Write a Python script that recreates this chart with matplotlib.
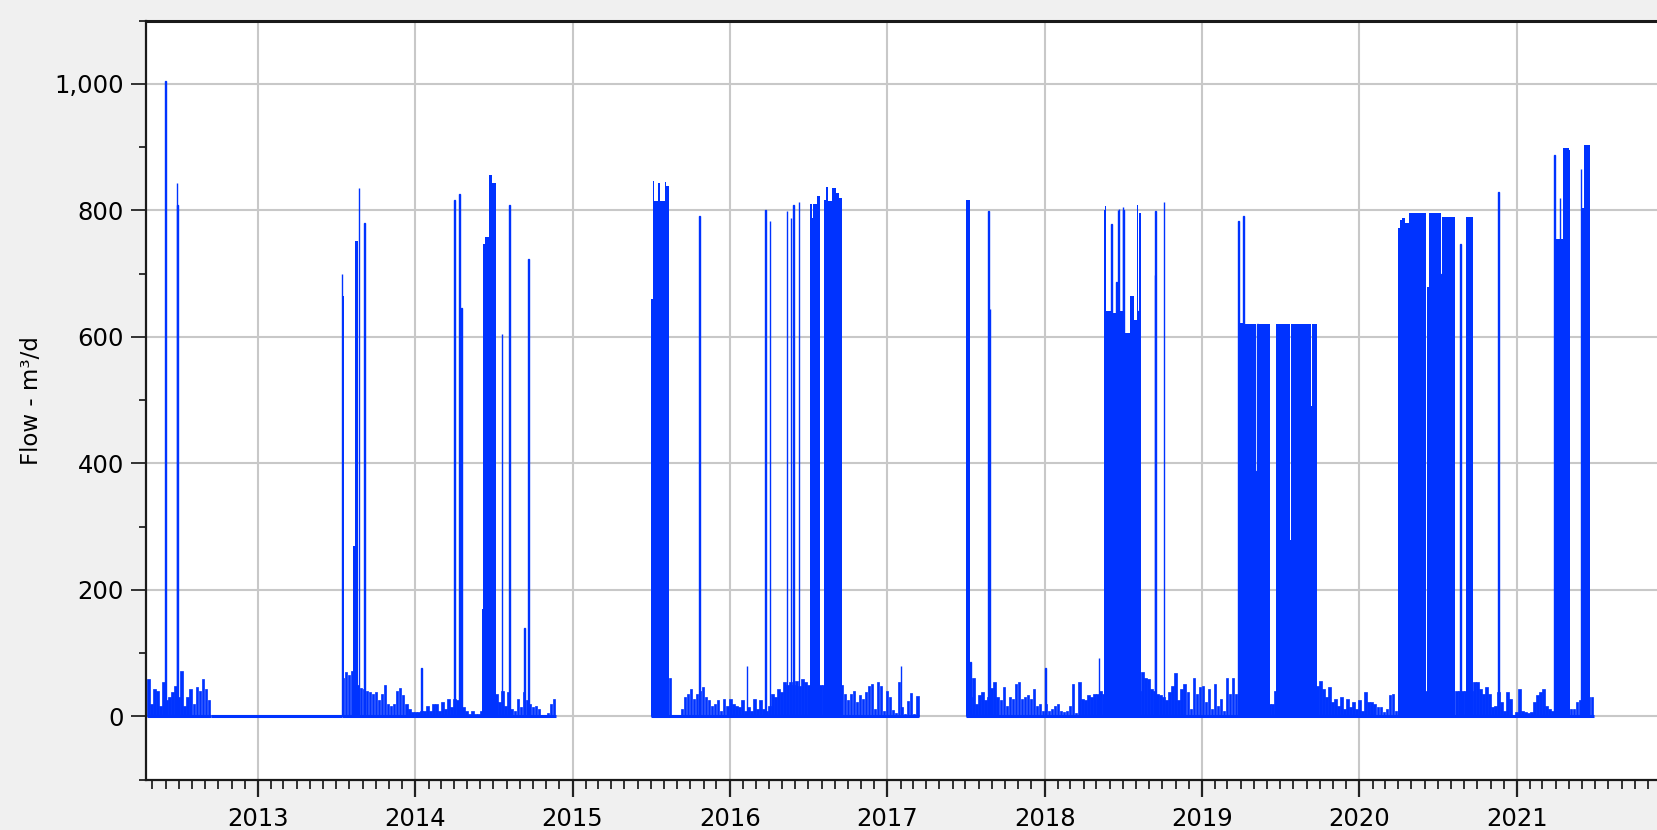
import matplotlib
matplotlib.use("Agg")
import matplotlib.pyplot as plt
import matplotlib.dates as mdates
import matplotlib.ticker as mticker
import pandas as pd

BLUE = "#0033ff"

# ---- weekly background (low) flow, m3/d, one list per recording period ----
low_starts = ["2012-04-19", "2013-07-14", "2015-07-01", "2017-07-03"]
low_2012 = [59, 20, 43, 40, 17, 54, 25, 30, 38, 48, 30, 72, 17, 30, 43, 19, 46, 40, 59, 43, 25]
low_2013 = [60, 70, 65, 72, 55, 50, 45, 43, 40, 38, 36, 38, 25, 35, 50, 20, 17, 19, 40, 45,
            33, 20, 12, 7, 6, 6, 8, 8, 17, 9, 19, 20, 9, 22, 12, 27, 14, 27, 25, 20,
            14, 9, 4, 9, 3, 4, 8, 30, 35, 30, 30, 35, 22, 40, 17, 38, 12, 9, 27, 15,
            38, 25, 19, 14, 17, 12, 2, 1, 5, 19, 27]
low_2015 = [20, 25, 30, 25, 27, 30, 60, 1, 0, 0, 12, 30, 35, 43, 27, 35, 40, 46, 30, 25,
            17, 19, 25, 9, 27, 17, 27, 19, 17, 14, 25, 9, 15, 9, 27, 12, 25, 12, 9, 17,
            35, 30, 43, 38, 54, 50, 54, 50, 56, 48, 59, 54, 50, 50, 50, 75, 50, 50, 50, 50,
            50, 50, 50, 50, 35, 25, 35, 40, 22, 33, 27, 38, 48, 51, 12, 54, 48, 9, 40, 30,
            10, 5, 54, 15, 3, 24, 37, 3, 32]
low_2017 = [35, 30, 60, 19, 33, 38, 25, 30, 45, 54, 30, 25, 46, 17, 30, 27, 51, 54, 27, 30,
            33, 27, 43, 17, 19, 9, 20, 9, 12, 17, 19, 9, 6, 9, 17, 51, 5, 54, 27, 25,
            33, 30, 35, 35, 40, 35, 40, 40, 40, 40, 40, 40, 40, 40, 40, 40, 40, 40, 70, 60,
            59, 43, 40, 35, 33, 30, 25, 38, 48, 69, 25, 43, 51, 38, 12, 60, 35, 46, 48, 22,
            43, 12, 51, 17, 27, 9, 60, 35, 60, 35, 25, 14, 40, 40, 40, 40, 40, 40, 40, 40,
            19, 19, 40, 40, 40, 40, 40, 40, 40, 40, 40, 40, 40, 40, 40, 40, 48, 56, 43, 30,
            46, 22, 27, 17, 30, 12, 27, 14, 22, 12, 25, 9, 38, 22, 22, 19, 14, 14, 6, 12,
            33, 35, 9, 40, 40, 40, 40, 40, 40, 40, 40, 40, 40, 40, 40, 40, 40, 40, 40, 40,
            40, 40, 40, 40, 40, 40, 40, 40, 54, 54, 43, 35, 46, 35, 14, 17, 38, 22, 9, 38,
            27, 1, 6, 43, 9, 6, 5, 6, 22, 33, 38, 43, 17, 12, 9, 6, 33, 12, 5, 5,
            12, 12, 22, 25, 30, 30, 30, 30]

# period with a recorded flow of zero
zero_start = "2012-09-13"
zero_end = "2013-07-14"

# ---- pumping / high-flow runs: start date, duration (days), flow (m3/d) ----
hi_start = [
    "2012-05-31", "2012-06-26", "2012-06-28",
    "2013-07-14", "2013-07-16", "2013-08-10", "2013-08-14", "2013-08-23", "2013-09-05",
    "2014-01-15", "2014-04-02", "2014-04-13", "2014-04-18",
    "2014-06-04", "2014-06-07", "2014-06-12", "2014-06-20", "2014-06-29",
    "2014-07-21", "2014-08-07", "2014-09-11", "2014-09-20",
    "2015-07-01", "2015-07-06", "2015-07-09", "2015-07-19", "2015-07-22", "2015-08-03",
    "2015-08-07", "2015-10-22",
    "2016-02-09", "2016-03-23", "2016-04-03", "2016-05-12", "2016-05-21", "2016-05-27",
    "2016-06-09", "2016-07-06", "2016-07-09", "2016-07-12", "2016-07-22",
    "2016-08-06", "2016-08-12", "2016-08-17", "2016-08-26", "2016-09-04", "2016-09-10",
    "2017-02-01", "2017-07-03", "2017-07-12", "2017-08-23", "2017-08-26",
    "2018-01-02", "2018-05-06",
    "2018-05-18", "2018-05-21", "2018-05-24", "2018-05-29", "2018-05-31", "2018-06-04",
    "2018-06-05", "2018-06-15", "2018-06-17", "2018-06-19", "2018-06-20", "2018-06-22",
    "2018-06-23", "2018-07-01", "2018-07-02", "2018-07-03", "2018-07-06", "2018-07-18",
    "2018-07-27", "2018-08-03", "2018-08-06", "2018-08-08",
    "2018-09-13", "2018-09-15", "2018-10-04",
    "2019-03-26", "2019-03-28", "2019-04-07", "2019-04-09", "2019-05-06", "2019-05-08",
    "2019-05-10", "2019-05-12", "2019-06-22", "2019-07-24", "2019-07-27", "2019-09-11",
    "2019-09-14",
    "2020-03-30", "2020-04-05", "2020-04-09", "2020-04-17", "2020-04-25", "2020-06-06",
    "2020-06-10", "2020-07-08", "2020-07-10", "2020-08-22", "2020-09-05", "2020-11-19",
    "2021-03-29", "2021-03-30", "2021-04-11", "2021-04-12", "2021-04-17", "2021-05-02",
    "2021-05-29", "2021-06-01", "2021-06-05",
]
hi_days = [
    1, 2, 2,
    2, 3, 3, 8, 1, 1,
    1, 1, 1, 2,
    3, 5, 8, 9, 9,
    1, 1, 2, 1,
    5, 3, 10, 3, 12, 4,
    5, 1,
    1, 1, 1, 1, 1, 1,
    1, 3, 3, 10, 6,
    6, 5, 9, 9, 6, 7,
    1, 9, 1, 1, 2,
    1, 1,
    3, 3, 5, 3, 4, 1,
    10, 2, 2, 1, 2, 1,
    8, 1, 1, 3, 12, 9,
    7, 3, 2, 4,
    2, 2, 1,
    2, 10, 2, 27, 2, 2,
    2, 27, 32, 3, 46, 3,
    10,
    6, 4, 8, 8, 40, 4,
    28, 2, 32, 2, 15, 1,
    1, 12, 1, 5, 15, 3,
    1, 4, 15,
]
hi_flow = [
    1004, 843, 808,
    700, 664, 270, 752, 835, 780,
    76, 817, 825, 645,
    170, 746, 758, 855, 843,
    604, 809, 139, 723,
    660, 847, 815, 843, 815, 845,
    838, 791,
    80, 801, 783, 799, 787, 809,
    813, 810, 788, 810, 823,
    817, 836, 815, 835, 827, 820,
    79, 817, 86, 799, 644,
    76, 92,
    800, 806, 640, 458, 640, 779,
    638, 686, 640, 800, 640, 802,
    640, 805, 800, 640, 606, 664,
    627, 809, 640, 795,
    697, 799, 813,
    783, 622, 791, 620, 387, 620,
    192, 620, 620, 279, 620, 490,
    620,
    772, 785, 788, 780, 796, 679,
    795, 699, 790, 746, 790, 829,
    888, 755, 820, 755, 899, 895,
    866, 803, 903,
]

x_min = "2012-04-16"
x_max = "2021-11-22"

fig = plt.figure(figsize=(16.57, 8.30), dpi=100, facecolor="#f0f0f0")
ax = fig.add_axes([0.0881, 0.0608, 0.9119, 0.9145])
ax.set_facecolor("white")

low_series = [low_2012, low_2013, low_2015, low_2017]
for start, vals in zip(low_starts, low_series):
    dates = pd.date_range(start, periods=len(vals), freq="7D")
    xs = mdates.date2num(dates.to_pydatetime())
    ax.bar(xs, vals, width=6, align="edge", color=BLUE, linewidth=0.5,
           edgecolor=BLUE, zorder=2)
    end = mdates.date2num((dates[-1] + pd.Timedelta(days=7)).to_pydatetime())
    ax.hlines(0, xs[0], end, color=BLUE, lw=2.2, zorder=3)

ax.hlines(0, mdates.date2num(pd.Timestamp(zero_start).to_pydatetime()),
          mdates.date2num(pd.Timestamp(zero_end).to_pydatetime()),
          color=BLUE, lw=2.2, zorder=3)

hx = mdates.date2num(pd.to_datetime(hi_start).to_pydatetime())
edge_w = [1.0 if d <= 2 else 0.0 for d in hi_days]
ax.bar(hx, hi_flow, width=hi_days, align="edge", color=BLUE, edgecolor=BLUE,
       linewidth=edge_w, zorder=2)

ax.xaxis_date()
ax.set_xlim(mdates.date2num(pd.Timestamp(x_min).to_pydatetime()),
            mdates.date2num(pd.Timestamp(x_max).to_pydatetime()))
ax.set_ylim(-100, 1100)

ax.xaxis.set_major_locator(mdates.YearLocator())
ax.xaxis.set_major_formatter(mdates.DateFormatter("%Y"))
ax.xaxis.set_minor_locator(mdates.MonthLocator())
ax.yaxis.set_major_locator(mticker.MultipleLocator(200))
ax.yaxis.set_minor_locator(mticker.MultipleLocator(100))
ax.yaxis.set_major_formatter(mticker.FuncFormatter(lambda v, p: f"{v:,.0f}"))

ax.tick_params(axis="x", which="major", length=12, width=1.6, pad=8,
               labelsize=17.5, color="#222222")
ax.tick_params(axis="x", which="minor", length=6.5, width=1.3, color="#222222")
ax.tick_params(axis="y", which="major", length=11, width=1.3, pad=5,
               labelsize=17.5, color="#222222")
ax.tick_params(axis="y", which="minor", length=5, width=1.3, color="#222222")

ax.grid(True, which="major", color="#c8c8c8", lw=1.5)
ax.set_axisbelow(True)

for s in ["left", "bottom"]:
    ax.spines[s].set_linewidth(1.6)
    ax.spines[s].set_color("#1a1a1a")
ax.spines["top"].set_linewidth(2.2)
ax.spines["top"].set_color("#1a1a1a")
ax.spines["right"].set_visible(False)

fig.text(32 / 1657, 1 - 401 / 830, "Flow - m³/d", rotation=90, ha="center",
         va="center", fontsize=16.5)

fig.savefig("out.png", dpi=100, facecolor=fig.get_facecolor())
